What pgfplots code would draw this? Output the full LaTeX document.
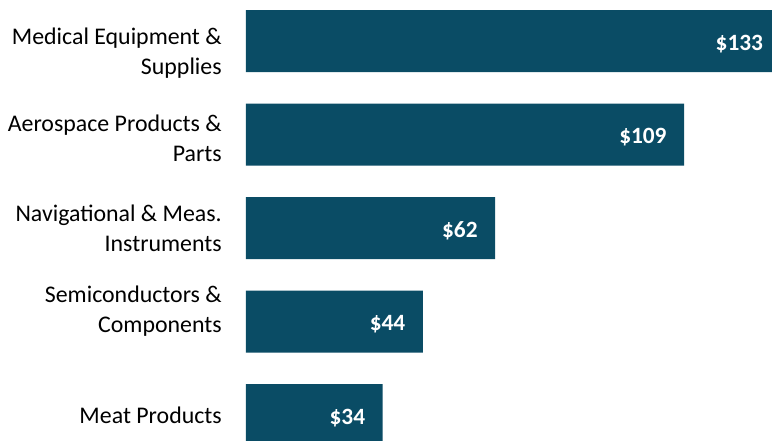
\documentclass[border=0pt]{standalone}
\usepackage{pgfplots}
\pgfplotsset{compat=1.18}
\usepackage{fontspec}
\setmainfont{Carlito}
\definecolor{barteal}{RGB}{10,76,101}
\begin{document}
\begin{tikzpicture}
\begin{axis}[
    xbar,
    scale only axis,
    width=394.5pt,
    height=330.75pt,
    xmin=0, xmax=130.85,
    ymin=-0.278, ymax=4.439,
    enlargelimits=false,
    clip=false,
    bar width=46.5pt,
    axis line style={draw=none},
    major tick length=0pt,
    xtick=\empty,
    ytick={0,1.107,1.995,2.957,3.866},
    yticklabels={Meat Products,
        Semiconductors \&\\Components,
        Navigational \& Meas.\\Instruments,
        Aerospace Products \&\\Parts,
        Medical Equipment \&\\Supplies},
    yticklabel style={align=right, inner xsep=0pt, xshift=-18pt,
        font=\fontsize{17.9}{22.5}\selectfont},
    /pgf/number format/assume math mode=true,
    point meta=x,
    nodes near coords={\$\pgfmathprintnumber{\pgfplotspointmeta}},
    nodes near coords style={anchor=east, inner sep=0pt, xshift=-13pt, yshift=-2pt,
        text=white, font=\fontsize{17.5}{20}\selectfont\bfseries},
]
\addplot[fill=barteal, draw=none] coordinates {
    (34,0) (44,1) (62,2) (109,3) (133,4)
};
\end{axis}
\pgfresetboundingbox
\path[use as bounding box] (current axis.south west) ++(-184.5pt,0pt) rectangle (current axis.north east);
\end{tikzpicture}
\end{document}
